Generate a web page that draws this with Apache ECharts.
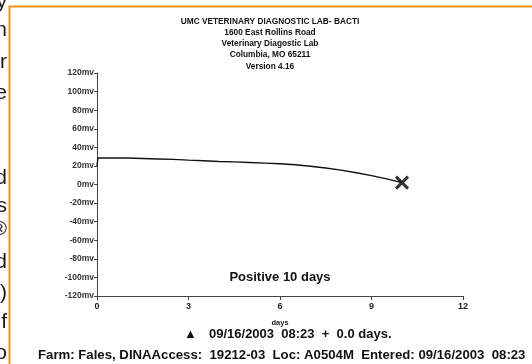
<!DOCTYPE html>
<html>
<head>
<meta charset="utf-8">
<script src="https://cdn.jsdelivr.net/npm/echarts@6/dist/echarts.min.js"></script>
<style>
html,body{margin:0;padding:0;background:#fff;}
#c{width:532px;height:364px;}
</style>
</head>
<body>
<div id="c"></div>
<script>
// ---- data ----
const titleLines = [
  "UMC VETERINARY DIAGNOSTIC LAB- BACTI",
  "1600 East Rollins Road",
  "Veterinary Diagostic Lab",
  "Columbia, MO 65211",
  "Version 4.16"
];
const days = [0, 0.03, 0.5, 1, 1.5, 2, 2.5, 3, 3.5, 4, 4.5, 5, 5.5, 6, 6.5, 7, 7.5, 8, 8.5, 9, 9.5, 10];
const mv   = [20, 28.5, 28.5, 28.5, 28, 27.5, 27, 26.2, 25.5, 24.8, 24.3, 23.7, 23, 22.3, 21.3, 19.7, 17.8, 15.5, 12.7, 9.6, 6, 2];
const yTicks = { min: -120, max: 120, step: 20, unit: "mv" };
const xTicks = { min: 0, max: 12, step: 3 };
const resultText = "Positive 10 days";
const stampText = "09/16/2003  08:23  +  0.0 days.";
const footerText = "Farm: Fales, DINAAccess:  19212-03  Loc: A0504M  Entered: 09/16/2003  08:23";
const sideChars = [["y", 2], ["n", 30], ["r", 62], ["e", 93], ["d", 178], ["s", 206], ["\u00ae", 229], ["d", 262], [")", 293], ["f", 322], ["o", 353]];

const FONT = 'Arial, "Liberation Sans", sans-serif';
const series = days.map((d, i) => [d, mv[i]]);
const endPoint = series[series.length - 1];

const chart = echarts.init(document.getElementById('c'), null, { renderer: 'canvas' });

const graphics = [];
// orange border
graphics.push({ type: 'polyline', shape: { points: [[9.5, 364], [9.5, 6.5], [532, 6.5]] }, style: { stroke: '#F7941D', lineWidth: 2, fill: null }, z: 10 });
// cropped side characters
sideChars.forEach(([ch, y]) => {
  graphics.push({ type: 'text', x: 7, y: y, style: { text: ch, font: '21px ' + FONT, fill: '#1a1a1a', align: 'right', verticalAlign: 'middle' } });
});
// header lines
const headerY = [22, 33, 44, 55, 67];
titleLines.forEach((t, i) => {
  graphics.push({ type: 'text', x: 270, y: headerY[i], style: { text: t, font: 'bold 8.3px ' + FONT, fill: '#111', align: 'center', verticalAlign: 'middle' } });
});
// result text
graphics.push({ type: 'text', x: 280, y: 277, style: { text: resultText, font: 'bold 13px ' + FONT, fill: '#111', align: 'center', verticalAlign: 'middle' } });
// stamp
graphics.push({ type: 'text', x: 184, y: 334, style: { text: '\u25B2', font: 'bold 13px ' + FONT, fill: '#111', align: 'left', verticalAlign: 'middle' } });
graphics.push({ type: 'text', x: 209, y: 334, style: { text: stampText, font: 'bold 13px ' + FONT, fill: '#111', align: 'left', verticalAlign: 'middle' } });
// footer
graphics.push({ type: 'text', x: 38, y: 355, style: { text: footerText, font: 'bold 13.2px ' + FONT, fill: '#111', align: 'left', verticalAlign: 'middle' } });

chart.setOption({
  animation: false,
  backgroundColor: '#fff',
  grid: { left: 97, right: 69, top: 73, bottom: 68, containLabel: false },
  xAxis: {
    type: 'value', min: xTicks.min, max: xTicks.max, interval: xTicks.step,
    name: 'days', nameLocation: 'middle', nameGap: 23,
    nameTextStyle: { fontFamily: FONT, fontSize: 7.5, fontWeight: 'bold', color: '#222' },
    axisLine: { onZero: false, lineStyle: { color: '#444', width: 1 } },
    axisTick: { show: true, inside: false, length: 4, lineStyle: { color: '#444' } },
    axisLabel: { fontFamily: FONT, fontSize: 9, fontWeight: 'bold', color: '#222', margin: 6 },
    splitLine: { show: false }
  },
  yAxis: {
    type: 'value', min: yTicks.min, max: yTicks.max, interval: yTicks.step,
    axisLine: { show: true, onZero: false, lineStyle: { color: '#444', width: 1 } },
    axisTick: { show: true, inside: false, length: 3, lineStyle: { color: '#444' } },
    axisLabel: { fontFamily: FONT, fontSize: 8.5, fontWeight: 'bold', color: '#333', margin: 3,
      formatter: v => v + yTicks.unit },
    splitLine: { show: false }
  },
  series: [
    { type: 'line', data: series, showSymbol: false, smooth: false,
      lineStyle: { color: '#111', width: 1.4 }, z: 3 },
    { type: 'scatter', data: [endPoint], symbol: 'path://M0,0 L10,10 M10,0 L0,10',
      symbolSize: 12, itemStyle: { color: 'none', borderColor: '#000', borderWidth: 3 }, z: 4 }
  ],
  graphic: graphics
});
</script>
</body>
</html>
